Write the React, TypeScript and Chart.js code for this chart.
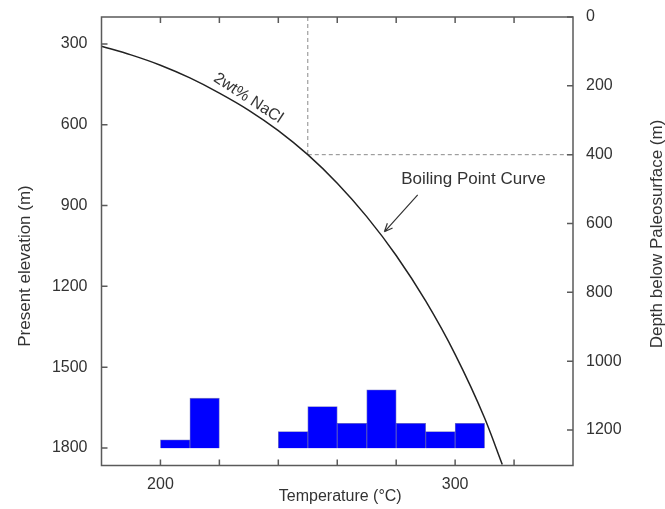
import React, { useEffect, useRef } from 'react';
import { Chart, registerables } from 'chart.js';

Chart.register(...registerables);

// ---- data ----
const tempTicks = [200, 220, 240, 260, 280, 300, 320];
const tempLabelled = [200, 300];
const elevationTicks = [300, 600, 900, 1200, 1500, 1800];
const depthTicks = [0, 200, 400, 600, 800, 1000, 1200];

// boiling point curve (2 wt% NaCl): temperature (°C) vs depth below paleosurface (m)
const curveTemps = [180, 190, 200, 210, 220, 230, 240, 250, 260, 270, 280, 290, 300, 310, 316];
const curveDepths = [85, 110, 140, 177, 221, 271, 330, 400, 483, 580, 693, 825, 980, 1165, 1300];

// histogram of homogenisation temperatures
const binStarts = [200, 210, 240, 250, 260, 270, 280, 290, 300];
const binCounts = [1, 6, 2, 5, 3, 7, 3, 2, 3];
const binWidth = 10;

// reference point (dashed guide lines)
const refTemp = 250;
const refDepth = 400;

// annotations (data coordinates: temperature, depth)
const boilingLabelPos = [281.7, 471];
const arrowFrom = [287.3, 517];
const arrowTo = [276, 624];
const naclLabelPos = [229.8, 236];
const naclAngleDeg = 33;

const FONT = '"Liberation Sans", Arial, Helvetica, sans-serif';
const TEXT = '#333333';
const AXIS = '#5a5a5a';

const noPad = (s: any) => {
  s.paddingTop = 0;
  s.paddingBottom = 0;
  s.paddingLeft = 0;
  s.paddingRight = 0;
};

const framePlugin = {
  id: 'framePlugin',
  afterDatasetsDraw(chart: any) {
    const { ctx, chartArea: a, scales } = chart;
    const x = scales.x;
    const yL = scales.yL;
    const yR = scales.yR;
    ctx.save();
    // frame
    ctx.strokeStyle = AXIS;
    ctx.lineWidth = 1.5;
    ctx.strokeRect(a.left, a.top, a.right - a.left, a.bottom - a.top);
    // inward ticks
    const tl = 6;
    ctx.beginPath();
    tempTicks.forEach((t) => {
      const px = x.getPixelForValue(t);
      ctx.moveTo(px, a.bottom);
      ctx.lineTo(px, a.bottom - tl);
      ctx.moveTo(px, a.top);
      ctx.lineTo(px, a.top + tl);
    });
    elevationTicks.forEach((e) => {
      const py = yL.getPixelForValue(e);
      ctx.moveTo(a.left, py);
      ctx.lineTo(a.left + tl, py);
    });
    depthTicks.forEach((d) => {
      const py = yR.getPixelForValue(d);
      ctx.moveTo(a.right, py);
      ctx.lineTo(a.right - tl, py);
    });
    ctx.stroke();

    // axis titles
    ctx.fillStyle = TEXT;
    ctx.font = `16px ${FONT}`;
    ctx.textAlign = 'center';
    ctx.textBaseline = 'middle';
    ctx.fillText('Temperature (°C)', (a.left + a.right) / 2 + 3, 497);

    ctx.font = `17px ${FONT}`;
    ctx.save();
    ctx.translate(25, 266);
    ctx.rotate(-Math.PI / 2);
    ctx.fillText('Present elevation (m)', 0, 0);
    ctx.restore();

    ctx.save();
    ctx.translate(657, 234);
    ctx.rotate(-Math.PI / 2);
    ctx.fillText('Depth below Paleosurface (m)', 0, 0);
    ctx.restore();

    // boiling point label + arrow
    ctx.font = `17px ${FONT}`;
    ctx.textAlign = 'left';
    ctx.fillText('Boiling Point Curve', x.getPixelForValue(boilingLabelPos[0]), yR.getPixelForValue(boilingLabelPos[1]));

    const fx = x.getPixelForValue(arrowFrom[0]);
    const fy = yR.getPixelForValue(arrowFrom[1]);
    const tx = x.getPixelForValue(arrowTo[0]);
    const ty = yR.getPixelForValue(arrowTo[1]);
    ctx.strokeStyle = '#333';
    ctx.lineWidth = 1.2;
    ctx.beginPath();
    ctx.moveTo(fx, fy);
    ctx.lineTo(tx, ty);
    const ang = Math.atan2(ty - fy, tx - fx);
    const hl = 9;
    ctx.moveTo(tx, ty);
    ctx.lineTo(tx - hl * Math.cos(ang - 0.4), ty - hl * Math.sin(ang - 0.4));
    ctx.moveTo(tx, ty);
    ctx.lineTo(tx - hl * Math.cos(ang + 0.4), ty - hl * Math.sin(ang + 0.4));
    ctx.stroke();

    // curve label
    ctx.save();
    ctx.translate(x.getPixelForValue(naclLabelPos[0]), yR.getPixelForValue(naclLabelPos[1]));
    ctx.rotate((naclAngleDeg * Math.PI) / 180);
    ctx.textAlign = 'center';
    ctx.textBaseline = 'middle';
    ctx.font = `16px ${FONT}`;
    ctx.fillText('2wt% NaCl', 0, 0);
    ctx.restore();

    ctx.restore();
  },
};

export default function App() {
  const ref = useRef<HTMLCanvasElement | null>(null);

  useEffect(() => {
    if (!ref.current) return;
    const tickFont = { family: FONT, size: 16 };
    const plain = (v: any) => String(v);
    const chart = new Chart(ref.current, {
      type: 'line',
      data: {
        datasets: [
          {
            type: 'line',
            label: 'Boiling point curve',
            data: curveTemps.map((t, i) => ({ x: t, y: curveDepths[i] })),
            xAxisID: 'x',
            yAxisID: 'yR',
            borderColor: '#222222',
            borderWidth: 1.5,
            pointRadius: 0,
            cubicInterpolationMode: 'monotone',
            order: 1,
          },
          {
            type: 'line',
            label: 'guide v',
            data: [
              { x: refTemp, y: 0 },
              { x: refTemp, y: refDepth },
            ],
            xAxisID: 'x',
            yAxisID: 'yR',
            borderColor: '#8a8a8a',
            borderWidth: 1,
            borderDash: [4, 3],
            pointRadius: 0,
            order: 3,
          },
          {
            type: 'line',
            label: 'guide h',
            data: [
              { x: refTemp, y: refDepth },
              { x: 340, y: refDepth },
            ],
            xAxisID: 'x',
            yAxisID: 'yR',
            borderColor: '#8a8a8a',
            borderWidth: 1,
            borderDash: [4, 3],
            pointRadius: 0,
            order: 3,
          },
          {
            type: 'bar',
            label: 'Frequency',
            data: binStarts.map((s, i) => ({ x: s + binWidth / 2, y: [0, binCounts[i]] })),
            xAxisID: 'x',
            yAxisID: 'yF',
            backgroundColor: '#0000ff',
            borderColor: 'rgba(0,0,150,0.55)',
            borderWidth: 0.8,
            barPercentage: 1,
            categoryPercentage: 1,
            order: 2,
          } as any,
        ],
      },
      options: {
        responsive: false,
        animation: false,
        devicePixelRatio: 1,
        layout: { padding: { top: 17, left: 0, right: 0, bottom: 0 } },
        plugins: { legend: { display: false }, tooltip: { enabled: false } },
        scales: {
          x: {
            type: 'linear',
            position: 'bottom',
            min: 180,
            max: 340,
            offset: false,
            grid: { display: false, drawTicks: false },
            border: { display: false },
            afterBuildTicks: (s: any) => {
              s.ticks = tempTicks.map((v) => ({ value: v }));
            },
            ticks: {
              autoSkip: false,
              maxRotation: 0,
              padding: 9,
              color: TEXT,
              font: tickFont,
              callback: (v: any) => (tempLabelled.includes(Number(v)) ? String(v) : ''),
            },
            afterFit: (s: any) => {
              s.height = 43.5;
              noPad(s);
            },
          },
          yL: {
            type: 'linear',
            position: 'left',
            reverse: true,
            min: 200,
            max: 1865,
            grid: { display: false, drawTicks: false },
            border: { display: false },
            afterBuildTicks: (s: any) => {
              s.ticks = elevationTicks.map((v) => ({ value: v }));
            },
            ticks: { autoSkip: false, padding: 14, color: TEXT, font: tickFont, callback: plain },
            afterFit: (s: any) => {
              s.width = 101.5;
              noPad(s);
            },
          },
          yR: {
            type: 'linear',
            position: 'right',
            reverse: true,
            min: 0,
            max: 1303,
            grid: { display: false, drawTicks: false },
            border: { display: false },
            afterBuildTicks: (s: any) => {
              s.ticks = depthTicks.map((v) => ({ value: v }));
            },
            ticks: { autoSkip: false, padding: 13, color: TEXT, font: tickFont, callback: plain },
            afterFit: (s: any) => {
              s.width = 92;
              noPad(s);
            },
          },
          yF: {
            type: 'linear',
            display: false,
            min: -2.07,
            max: 51.7,
          },
        },
      } as any,
      plugins: [framePlugin],
    });
    return () => chart.destroy();
  }, []);

  return (
    <div style={{ position: 'fixed', left: 0, top: 0, width: 665, height: 509, background: '#fff' }}>
      <canvas ref={ref} width={665} height={509} style={{ width: 665, height: 509, display: 'block' }} />
    </div>
  );
}
